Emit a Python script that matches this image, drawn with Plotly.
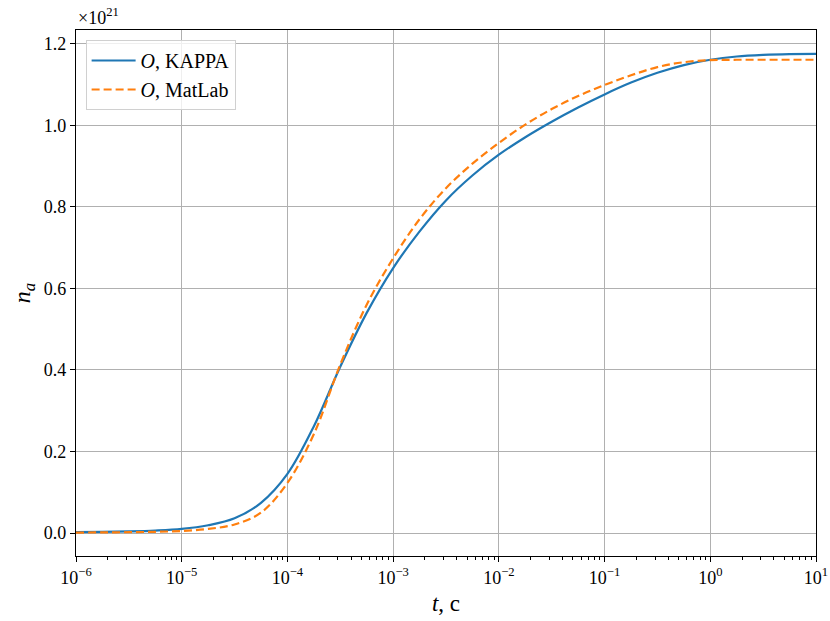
import plotly.graph_objects as go

# Data (n_a in units of 1e21), time t in seconds
scale_exp = 21
t_kappa = [1e-6, 1.78e-6, 3.16e-6, 5.62e-6, 1e-5, 1.78e-5, 3.16e-5, 5.62e-5,
           1e-4, 1.78e-4, 3.16e-4, 5.62e-4, 1e-3, 1.78e-3, 3.16e-3, 5.62e-3,
           1e-2, 1.78e-2, 3.16e-2, 5.62e-2, 1e-1, 1.78e-1, 3.16e-1, 5.62e-1,
           1, 1.78, 3.16, 5.62, 10]
n_kappa = [0.002, 0.003, 0.004, 0.006, 0.010, 0.019, 0.036, 0.074,
           0.145, 0.262, 0.408, 0.540, 0.650, 0.740, 0.816, 0.877,
           0.928, 0.971, 1.009, 1.044, 1.076, 1.105, 1.129, 1.148,
           1.161, 1.169, 1.173, 1.175, 1.1755]

t_matlab = [1e-6, 1.78e-6, 3.16e-6, 5.62e-6, 1e-5, 1.78e-5, 3.16e-5, 5.62e-5,
            1e-4, 1.78e-4, 3.16e-4, 5.62e-4, 1e-3, 1.78e-3, 3.16e-3, 5.62e-3,
            1e-2, 1.78e-2, 3.16e-2, 5.62e-2, 1e-1, 1.78e-1, 3.16e-1, 5.62e-1,
            1, 1.78, 3.16, 5.62, 10]
n_matlab = [0.001, 0.0015, 0.002, 0.003, 0.005, 0.010, 0.021, 0.050,
            0.123, 0.243, 0.413, 0.560, 0.674, 0.770, 0.846, 0.906,
            0.957, 1.002, 1.040, 1.072, 1.099, 1.123, 1.143, 1.155,
            1.160, 1.161, 1.161, 1.161, 1.161]

x_tick_exps = [-6, -5, -4, -3, -2, -1, 0, 1]
y_ticks = [0.0, 0.2, 0.4, 0.6, 0.8, 1.0, 1.2]

FONT = "Liberation Serif"

fig = go.Figure()
fig.add_trace(go.Scatter(
    x=t_kappa, y=n_kappa, mode="lines", name="<i>O</i>, KAPPA",
    line=dict(color="#1f77b4", width=2.2, shape="spline", smoothing=1.0)))
fig.add_trace(go.Scatter(
    x=t_matlab, y=n_matlab, mode="lines", name="<i>O</i>, MatLab",
    line=dict(color="#ff7f0e", width=2.2, dash="8px,4px", shape="spline", smoothing=1.0)))

minor_vals = [m * 10.0 ** e for e in range(-6, 1) for m in range(2, 10)]

fig.update_layout(
    width=830, height=621,
    margin=dict(l=76, r=14, t=30, b=65),
    paper_bgcolor="white", plot_bgcolor="white",
    font=dict(family=FONT, size=18, color="black"),
    showlegend=True,
    legend=dict(x=0.013, y=0.981, xanchor="left", yanchor="top",
                bgcolor="rgba(255,255,255,0.8)", bordercolor="#d0d0d0", borderwidth=1,
                font=dict(family=FONT, size=20), itemwidth=44),
    xaxis=dict(
        type="log", range=[-6, 1], automargin=False,
        tickmode="array",
        tickvals=[10.0 ** e for e in x_tick_exps],
        ticktext=["10<sup>%s</sup>" % (str(e).replace("-", "\u2212")) for e in x_tick_exps],
        ticks="outside", ticklen=5, tickwidth=1, tickcolor="black",
        showline=True, linecolor="black", linewidth=1.2, mirror=True,
        showgrid=True, gridcolor="#b0b0b0", gridwidth=1,
        zeroline=False, ticklabeloverflow="allow",
        minor=dict(tickmode="array", tickvals=minor_vals, ticks="outside",
                   ticklen=3, tickcolor="black", tickwidth=0.8, showgrid=False),
        title=dict(text="<i>t</i>, c", font=dict(family=FONT, size=23), standoff=8),
        tickfont=dict(family=FONT, size=18),
    ),
    yaxis=dict(
        range=[-0.0564, 1.234], automargin=False,
        tickmode="array", tickvals=y_ticks,
        ticktext=["%.1f" % v for v in y_ticks],
        ticks="outside", ticklen=5, tickwidth=1, tickcolor="black",
        showline=True, linecolor="black", linewidth=1.2, mirror=True,
        showgrid=True, gridcolor="#b0b0b0", gridwidth=1,
        zeroline=False,
        title=dict(text="<i>n</i><sub><i>a</i></sub>", font=dict(family=FONT, size=24), standoff=6),
        tickfont=dict(family=FONT, size=18),
    ),
    annotations=[dict(
        text="\u00d710<sup>%d</sup>" % scale_exp, xref="paper", yref="paper",
        x=0, y=1, xanchor="left", yanchor="bottom", yshift=0, showarrow=False,
        font=dict(family=FONT, size=18))],
)

fig.write_html("out.html", config={"displayModeBar": False},
               post_script="document.body.style.margin='0';")
